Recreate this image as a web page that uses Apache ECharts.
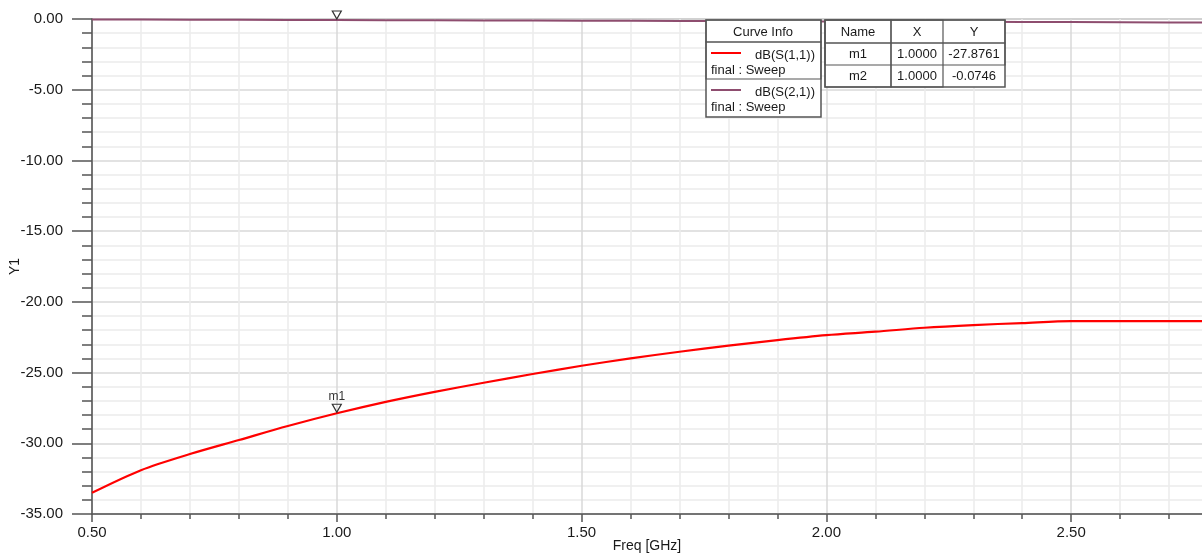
<!DOCTYPE html>
<html>
<head>
<meta charset="utf-8">
<script src="https://cdn.jsdelivr.net/npm/echarts@6/dist/echarts.min.js"></script>
<style>
  html, body { margin: 0; padding: 0; background: #fff; }
  #chart { width: 1202px; height: 555px; }
</style>
</head>
<body>
<div id="chart"></div>
<script>
// frequency sweep (GHz)
const freq = [0.5, 0.6, 0.7, 0.8, 0.9, 1.0, 1.1, 1.2, 1.3, 1.4, 1.5, 1.6, 1.7, 1.8, 1.9, 2.0, 2.1, 2.2, 2.3, 2.4, 2.5, 2.6, 2.7, 2.8];
// dB(S(1,1))
const s11 = [-33.5, -31.9, -30.76, -29.77, -28.78, -27.88, -27.07, -26.36, -25.72, -25.1, -24.52, -24.0, -23.53, -23.1, -22.7, -22.35, -22.11, -21.83, -21.64, -21.5, -21.36, -21.36, -21.36, -21.36];
// dB(S(2,1))
const s21 = [-0.03, -0.04, -0.05, -0.055, -0.065, -0.075, -0.08, -0.09, -0.1, -0.11, -0.12, -0.13, -0.14, -0.15, -0.16, -0.17, -0.18, -0.19, -0.2, -0.21, -0.22, -0.23, -0.24, -0.25];

const curveNames = ['dB(S(1,1))', 'dB(S(2,1))'];
const curveColors = ['#ff0000', '#8e4d6f'];
const markerNames = ['m1', 'm2'];
const markerX = [1.0, 1.0];
const markerY = [-27.8761, -0.0746];

const FONT = '"Liberation Sans", Arial, Helvetica, sans-serif';
const chart = echarts.init(document.getElementById('chart'));

function pairs(ys) {
  return freq.map((f, i) => [f, ys[i]]);
}

// small table drawn with graphic elements
function cell(x, y, w, h) {
  return { type: 'rect', shape: { x: x, y: y, width: w, height: h },
    style: { fill: 'rgba(0,0,0,0)', stroke: '#555', lineWidth: 1.2 }, z: 101 };
}
function txt(x, y, s, align) {
  return { type: 'text', x: x, y: y, z: 102,
    style: { text: s, font: '13px ' + FONT, fill: '#1a1a1a', align: align || 'center', verticalAlign: 'middle' } };
}

const graphics = [];
// Curve Info box
graphics.push({ type: 'rect', shape: { x: 706, y: 20, width: 115, height: 97 }, style: { fill: '#fff', stroke: '#555', lineWidth: 1.5 }, z: 100 });
graphics.push(cell(706, 20, 115, 22), cell(706, 42, 115, 37));
graphics.push(txt(763, 32, 'Curve Info'));
[[53, 55, 70], [90, 92, 107]].forEach((r, i) => {
  graphics.push({ type: 'line', shape: { x1: 711, y1: r[0], x2: 741, y2: r[0] }, style: { stroke: curveColors[i], lineWidth: 2 }, z: 102 });
  graphics.push(txt(815, r[1], curveNames[i], 'right'));
  graphics.push(txt(711, r[2], 'final : Sweep', 'left'));
});
// marker table
graphics.push({ type: 'rect', shape: { x: 825, y: 20, width: 180, height: 67 }, style: { fill: '#fff', stroke: '#555', lineWidth: 1.5 }, z: 100 });
graphics.push(cell(825, 20, 180, 23), cell(825, 43, 180, 22), cell(825, 20, 66, 67), cell(891, 20, 52, 67));
graphics.push(txt(858, 32, 'Name'), txt(917, 32, 'X'), txt(974, 32, 'Y'));
markerNames.forEach((m, i) => {
  const y = 54 + i * 22.5;
  graphics.push(txt(858, y, m), txt(917, y, markerX[i].toFixed(4)), txt(974, y, markerY[i].toFixed(4)));
});

const markerSymbol = {
  symbol: 'triangle', symbolRotate: 180, symbolSize: [9, 8], symbolOffset: [0, -5],
  itemStyle: { color: 'rgba(0,0,0,0)', borderColor: '#333', borderWidth: 1.2 }
};

const option = {
  animation: false,
  backgroundColor: '#fff',
  textStyle: { fontFamily: FONT },
  grid: { left: 92, top: 19, right: -114, bottom: 41, show: true, borderColor: '#777', borderWidth: 1, outerBoundsMode: 'none', containLabel: false },
  xAxis: {
    type: 'value', min: 0.5, max: 3.0, interval: 0.5,
    name: 'Freq [GHz]', nameLocation: 'middle', nameGap: 25, nameMoveOverlap: false,
    nameTextStyle: { fontSize: 14, color: '#1a1a1a', fontFamily: FONT, padding: [0, 114, 0, 0] },
    axisLine: { show: true, onZero: false, lineStyle: { color: '#555', width: 1.5 } },
    axisTick: { show: true, length: 8, lineStyle: { color: '#555', width: 1.5 } },
    minorTick: { show: true, splitNumber: 5, length: 5, lineStyle: { color: '#555', width: 1.5 } },
    axisLabel: { fontSize: 15, color: '#1a1a1a', margin: 11, formatter: v => v.toFixed(2), fontFamily: FONT },
    splitLine: { show: true, lineStyle: { color: '#d9d9d9', width: 1.5 } },
    minorSplitLine: { show: true, lineStyle: { color: '#ececec', width: 1.5 } }
  },
  yAxis: {
    type: 'value', min: -35, max: 0, interval: 5,
    name: 'Y1', nameLocation: 'middle', nameGap: 70, nameRotate: 90, nameMoveOverlap: false,
    nameTextStyle: { fontSize: 14, color: '#1a1a1a', fontFamily: FONT },
    axisLine: { show: true, onZero: false, lineStyle: { color: '#555', width: 1.5 } },
    axisTick: { show: true, length: 20, lineStyle: { color: '#555', width: 1.5 } },
    minorTick: { show: true, splitNumber: 5, length: 10, lineStyle: { color: '#555', width: 1.5 } },
    axisLabel: { fontSize: 15, color: '#1a1a1a', margin: 29, formatter: v => v.toFixed(2), fontFamily: FONT },
    splitLine: { show: true, lineStyle: { color: '#d9d9d9', width: 1.5 } },
    minorSplitLine: { show: true, lineStyle: { color: '#ececec', width: 1.5 } }
  },
  series: [
    {
      name: curveNames[0], type: 'line', data: pairs(s11), showSymbol: false,
      smooth: 0.3,
      lineStyle: { color: curveColors[0], width: 2.2 }, itemStyle: { color: curveColors[0] },
      markPoint: Object.assign({
        data: [{ coord: [markerX[0], markerY[0]], name: markerNames[0] }],
        label: { show: true, position: 'top', distance: 1, formatter: '{b}', color: '#333', fontSize: 12, fontFamily: FONT }
      }, markerSymbol)
    },
    {
      name: curveNames[1], type: 'line', data: pairs(s21), showSymbol: false,
      lineStyle: { color: curveColors[1], width: 2 }, itemStyle: { color: curveColors[1] },
      markPoint: Object.assign({
        data: [{ coord: [markerX[1], markerY[1]], name: markerNames[1] }],
        label: { show: false }
      }, markerSymbol)
    }
  ],
  graphic: graphics
};

chart.setOption(option);
</script>
</body>
</html>
